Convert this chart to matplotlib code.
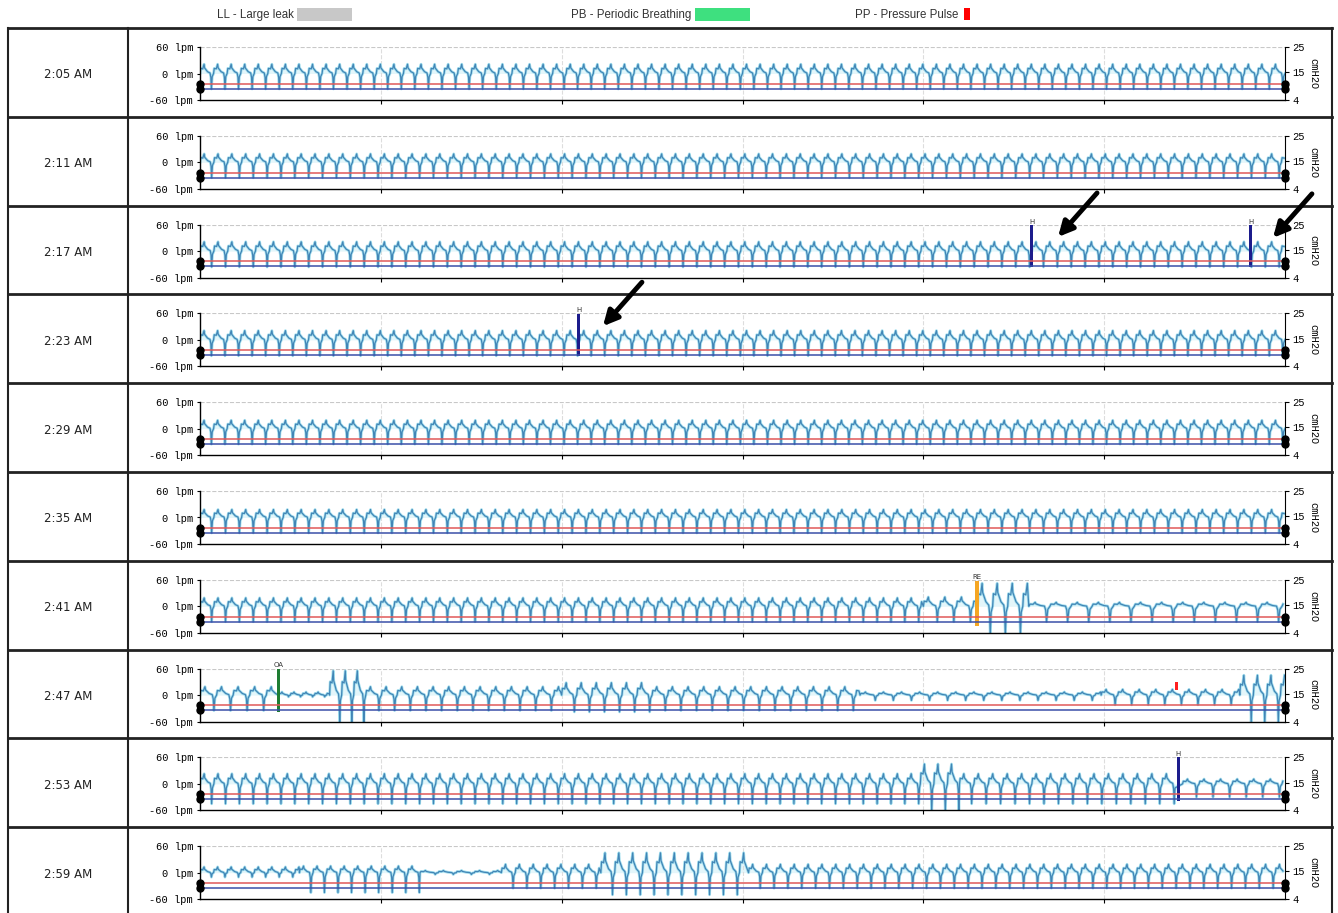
import matplotlib
matplotlib.use("Agg")
import matplotlib.pyplot as plt
from matplotlib.patches import Rectangle

# row labels (6 minutes per row)
row_times = ["2:05 AM", "2:11 AM", "2:17 AM", "2:23 AM", "2:29 AM",
             "2:35 AM", "2:41 AM", "2:47 AM", "2:53 AM", "2:59 AM"]

# one breath, shape (phase of breath, fraction of peak / trough)
breath_phase = [0.00, 0.05, 0.20, 0.30, 0.34, 0.42, 0.55, 0.74, 0.80, 0.84, 0.90, 1.00]
breath_shape = [0.00, 0.55, 0.50, 1.00, 0.60, 0.45, 0.20, 0.05, -0.25, -1.0, -0.2, 0.00]

# per row: (start s, end s, breath period s, insp peak lpm, exp trough lpm)
row_segments = [
    [(0, 360, 4.5, 21, -35)],
    [(0, 360, 4.6, 19, -35)],
    [(0, 360, 4.6, 21, -36)],
    [(0, 360, 4.5, 21, -36)],
    [(0, 360, 4.5, 19, -35)],
    [(0, 360, 4.6, 18, -35)],
    [(0, 240, 4.6, 19, -35), (240, 258, 5.5, 21, -35), (258, 275, 5.0, 52, -66),
     (275, 360, 7.0, 9, -35)],
    [(0, 26, 5.5, 19, -35), (26, 43, 4.0, 7, -4), (43, 55, 4.0, 55, -62),
     (55, 120, 5.2, 19, -35), (120, 150, 5.0, 28, -38), (150, 219, 5.2, 19, -35),
     (219, 299, 6.0, 7, -12), (299, 345, 5.5, 13, -22), (345, 360, 4.5, 45, -62)],
    [(0, 239, 4.6, 23, -45), (239, 252, 4.5, 45, -62), (252, 324, 4.8, 23, -45),
     (326, 360, 5.5, 11, -30)],
    [(0, 33, 4.5, 13, -10), (33, 73, 4.5, 15, -45), (73, 100, 6.0, 5, -4),
     (100, 133, 4.6, 19, -35), (133, 182, 4.6, 45, -50), (182, 360, 4.6, 19, -35)],
]

# pressure lines (cmH2O)
pressure_red = 10.4
pressure_blue = 8.4

# events: row index, time s, label, colour, bottom lpm, top lpm
event_row = [2, 2, 3, 6, 7, 8]
event_t = [276.0, 348.7, 125.7, 257.8, 26.2, 324.5]
event_label = ["H", "H", "H", "RE", "OA", "H"]
event_color = ["#1c1c8c", "#1c1c8c", "#1c1c8c", "#f5a623", "#1e7d32", "#1c1c8c"]
event_bottom = [-36, -36, -36, -45, -38, -38]
event_top = [58, 58, 58, 58, 60, 60]

# pressure pulse mark
pp_row, pp_t, pp_lo, pp_hi = 7, 324.0, 12, 30

# arrows: row index, time s, lpm of arrow head
arrow_row = [2, 2, 3]
arrow_t = [284.7, 356.0, 133.7]
arrow_lpm = [32, 30, 31]

legend_text = ["LL - Large leak", "PB - Periodic Breathing", "PP - Pressure Pulse"]
legend_color = ["#c8c8c8", "#3ee07f", "#ff0000"]


def breaths(segs):
    t, y = [], []
    for t0, t1, per, pk, tr in segs:
        s = t0
        while s < t1 - 1e-6:
            for ph, v in zip(breath_phase, breath_shape):
                tt = s + ph * per
                if tt > t1:
                    break
                t.append(tt)
                y.append(v * pk if v >= 0 else -v * tr)
            s += per
    return t, y


W, H = 1338, 913
fig = plt.figure(figsize=(W / 100, H / 100), dpi=100)
fig.patch.set_facecolor("white")

bg = fig.add_axes([0, 0, 1, 1])
bg.set_xlim(0, W)
bg.set_ylim(H, 0)
bg.axis("off")

row_h = 88.8
top0 = 28
tops = [top0 + row_h * i for i in range(len(row_times))]

# table frame
bg.plot([8, 1332], [top0, top0], color="#222222", lw=2)
for tp in tops[1:]:
    bg.plot([8, 1332], [tp, tp], color="#222222", lw=2)
bg.plot([8, 8], [top0, H], color="#222222", lw=1.5)
bg.plot([128, 128], [top0, H], color="#222222", lw=1.5)
bg.plot([1332, 1332], [top0, H], color="#222222", lw=1.5)

# legend
lx = [294, 691, 958]
bx = [297, 695, 964]
bw = [55, 55, 6]
for txt, c, x, b, w in zip(legend_text, legend_color, lx, bx, bw):
    bg.text(x, 15, txt, ha="right", va="center", fontsize=8.3,
            family="Liberation Sans", color="#333333")
    bg.add_patch(Rectangle((b, 8), w, 13 if w > 10 else 12, color=c, lw=0))

mono = "Liberation Mono"
axes = []
for i, (lab, segs) in enumerate(zip(row_times, row_segments)):
    tp = tops[i]
    bg.text(68, tp + 47, lab, ha="center", va="center", fontsize=8.5,
            family="DejaVu Sans", color="#222222")

    ax = fig.add_axes([200 / W, 1 - (tp + 72) / H, 1085 / W, 53 / H])
    ax.patch.set_alpha(0)
    ax.set_xlim(0, 360)
    ax.set_ylim(-60, 60)
    for s in ["top", "right"]:
        ax.spines[s].set_visible(False)
    ax.spines["left"].set_linewidth(1)
    ax.spines["bottom"].set_linewidth(1)
    ax.set_yticks([60, 0, -60])
    ax.set_yticklabels(["60 lpm", "0 lpm", "-60 lpm"], family=mono, fontsize=7.5)
    ax.tick_params(axis="y", length=2, pad=3)
    ax.set_xticks([60, 120, 180, 240, 300])
    ax.set_xticklabels([])
    ax.tick_params(axis="x", length=3, direction="out")
    ax.axhline(60, color="#c8c8c8", lw=0.8, ls="--")
    for m in [60, 120, 180, 240, 300]:
        ax.axvline(m, color="#dddddd", lw=0.8, ls="--")

    ax2 = ax.twinx()
    ax2.set_ylim(4, 25)
    for s in ["top", "left", "bottom"]:
        ax2.spines[s].set_visible(False)
    ax2.set_yticks([25, 15, 4])
    ax2.set_yticklabels(["25", "15", "4"], family=mono, fontsize=7.5)
    ax2.tick_params(axis="y", length=3, pad=2)
    ax2.set_ylabel("cmH2O", family=mono, fontsize=7.5, rotation=270, labelpad=10)

    ax2.axhline(pressure_red, color="#e05858", lw=1.1)
    ax2.axhline(pressure_blue, color="#3a4fa8", lw=1.1)
    ax2.plot([0, 0, 360, 360], [pressure_red, pressure_blue, pressure_red, pressure_blue],
             "o", color="black", ms=5, clip_on=False, zorder=6)

    t, y = breaths(segs)
    ax.fill_between(t, 0, y, color="#e4f6fa", lw=0)
    ax.plot(t, y, color="#a3dfee", lw=2.0)
    ax.plot(t, y, color="#4285b6", lw=0.9)
    axes.append(ax)

for r, t, lab, c, lo, hi in zip(event_row, event_t, event_label, event_color,
                                event_bottom, event_top):
    ax = axes[r]
    w = 1.6 if lab == "RE" else 1.0
    ax.bar(t, hi - lo, bottom=lo, width=w, color=c, zorder=5)
    ax.text(t, hi + 2, lab, ha="center", va="bottom", fontsize=5,
            color="#333333", clip_on=False)

axes[pp_row].bar(pp_t, pp_hi - pp_lo, bottom=pp_lo, width=1.0, color="#ff2020", zorder=5)

for r, t, v in zip(arrow_row, arrow_t, arrow_lpm):
    axes[r].annotate("", xy=(t, v), xytext=(39, 44), textcoords="offset pixels",
                     annotation_clip=False,
                     arrowprops=dict(arrowstyle="-|>", lw=3.5, color="black",
                                     mutation_scale=22, shrinkA=0, shrinkB=0),
                     zorder=10)

fig.savefig("out.png", dpi=100, facecolor="white")
